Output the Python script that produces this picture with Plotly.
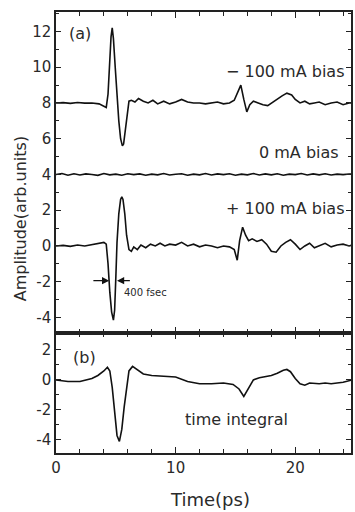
import plotly.graph_objects as go

# ---- data ----
x_neg = [0, 0.6, 1.2, 1.8, 2.4, 3.0, 3.6, 4.0, 4.2, 4.35, 4.5, 4.6, 4.7, 4.8, 4.95,
         5.1, 5.25, 5.4, 5.55, 5.65, 5.8, 5.95, 6.1, 6.3, 6.6, 6.9, 7.3, 7.7, 8.1, 8.5,
         9.0, 9.5, 10.0, 10.5, 11.0, 11.5, 12.0, 12.5, 13.0, 13.5, 14.0, 14.5,
         14.9, 15.2, 15.45, 15.7, 15.95, 16.2, 16.5, 16.9, 17.3, 17.7,
         18.1, 18.5, 18.9, 19.3, 19.7, 20.0, 20.4, 20.8, 21.2, 21.6, 22.0,
         22.5, 23.0, 23.5, 24.0, 24.5, 25.0]
y_neg = [8.0, 8.02, 7.98, 8.03, 7.99, 8.0, 7.95, 7.8, 7.75, 8.5, 10.5, 11.7, 12.2, 11.6, 10.0,
         8.3, 7.0, 6.0, 5.6, 5.7, 6.5, 7.6, 8.1, 8.15, 8.05, 8.25, 8.1, 8.0, 8.15, 7.95,
         8.1, 7.95, 8.05, 8.2, 8.05, 8.0, 8.0, 7.95, 8.0, 8.05, 7.95, 8.0,
         8.15, 8.6, 9.0, 8.2, 7.5, 7.9, 8.1, 8.0, 7.9, 7.85,
         8.05, 8.2, 8.4, 8.55, 8.45, 8.2, 8.0, 8.1, 7.95, 8.0, 8.05,
         7.9, 8.0, 8.05, 7.9, 8.0, 8.0]

x_zero = [0, 0.5, 1.0, 1.5, 2.0, 2.5, 3.0, 3.5, 4.0, 4.5, 5.0, 5.5, 6.0, 6.5, 7.0, 7.5,
          8.0, 8.5, 9.0, 9.5, 10.0, 10.5, 11.0, 11.5, 12.0, 12.5, 13.0, 13.5, 14.0, 14.5,
          15.0, 15.5, 16.0, 16.5, 17.0, 17.5, 18.0, 18.5, 19.0, 19.5, 20.0, 20.5, 21.0,
          21.5, 22.0, 22.5, 23.0, 23.5, 24.0, 24.5, 25.0]
y_zero = [4.0, 4.05, 3.96, 4.04, 3.97, 4.03, 4.0, 3.95, 4.05, 3.98, 4.02, 3.96, 4.04, 3.99,
          4.03, 3.96, 4.02, 3.98, 4.05, 3.97, 4.01, 4.04, 3.96, 4.02, 3.98, 4.05, 3.97, 4.03,
          3.99, 4.04, 3.96, 4.02, 3.98, 4.05, 3.97, 4.03, 3.98, 4.04, 3.96, 4.02, 3.99, 4.05,
          3.97, 4.03, 3.98, 4.04, 3.97, 4.02, 3.99, 4.03, 4.0]

x_pos = [0, 0.6, 1.2, 1.8, 2.4, 3.0, 3.6, 4.0, 4.2, 4.35, 4.5, 4.65, 4.8, 4.9, 5.0, 5.1,
         5.25, 5.4, 5.5, 5.6, 5.75, 5.9, 6.1, 6.3, 6.5, 6.8, 7.1, 7.5, 7.9, 8.3, 8.7, 9.1,
         9.5, 10.0, 10.5, 11.0, 11.5, 12.0, 12.5, 13.0, 13.5, 14.0, 14.5, 14.9, 15.15,
         15.35, 15.6, 15.85, 16.1, 16.4, 16.8, 17.2, 17.6, 18.0, 18.4, 18.8, 19.2, 19.6,
         20.0, 20.4, 20.8, 21.2, 21.6, 22.0, 22.5, 23.0, 23.5, 24.0, 24.5, 25.0]
y_pos = [0.0, 0.03, -0.02, 0.05, 0.0, 0.08, 0.15, 0.2, 0.1, -1.0, -2.6, -3.7, -4.15, -3.6,
         -1.8, 0.2, 1.8, 2.6, 2.75, 2.6, 1.8, 0.6, -0.2, -0.3, -0.05, -0.2, 0.05, -0.1, 0.1,
         0.0, 0.15, 0.0, 0.1, 0.05, 0.2, 0.0, 0.1, -0.05, 0.05, 0.0, -0.1, 0.0, -0.05, -0.2,
         -0.8, 0.3, 1.05, 0.6, 0.3, 0.4, 0.25, 0.35, 0.1, -0.3, -0.35, 0.0, 0.2, 0.35, 0.1,
         -0.2, 0.0, 0.15, -0.1, 0.0, 0.15, -0.05, 0.05, 0.1, 0.0, 0.1]

x_int = [0, 1, 2, 3, 3.5, 4.0, 4.3, 4.5, 4.7, 4.9, 5.1, 5.3, 5.5, 5.7, 5.9, 6.1, 6.4, 6.8,
         7.3, 8, 9, 10, 11, 12, 13, 14, 14.8, 15.3, 15.7, 16.0, 16.5, 17, 17.5, 18, 18.5,
         19, 19.3, 19.6, 20, 20.4, 20.8, 21.2, 22, 22.5, 23, 24, 25]
y_int = [0.0, -0.1, -0.1, 0.1, 0.3, 0.6, 0.85, 0.6, -0.5, -2.2, -3.7, -4.1, -3.3, -1.8,
         -0.4, 0.6, 0.9, 0.7, 0.4, 0.3, 0.25, 0.2, -0.1, -0.25, -0.25, -0.2, -0.3, -0.6,
         -1.1, -0.7, 0.0, 0.15, 0.2, 0.3, 0.45, 0.65, 0.7, 0.55, 0.1, -0.25, -0.35, -0.2,
         -0.25, -0.2, -0.25, -0.15, 0.05]

top_ticks = [-4, -2, 0, 2, 4, 6, 8, 10, 12]
top_ticktext = ["-4", "-2", "0", "2", "4", "6", "8", "10", "12"]
bot_ticks = [-4, -2, 0, 2]
bot_ticktext = ["-4", "-2", "0", "2"]
x_ticks = [0, 10, 20]
x_ticktext = ["0", "10", "20"]

FONT = "DejaVu Sans"
TXT = "#2a2a2a"
LINE = dict(color="#111", width=1.6)

fig = go.Figure()
for xs, ys in [(x_neg, y_neg), (x_zero, y_zero), (x_pos, y_pos)]:
    fig.add_trace(go.Scatter(x=xs, y=ys, mode="lines", line=LINE, xaxis="x", yaxis="y",
                             showlegend=False, hoverinfo="skip"))
fig.add_trace(go.Scatter(x=x_int, y=y_int, mode="lines", line=LINE, xaxis="x2", yaxis="y2",
                         showlegend=False, hoverinfo="skip"))

axis_common = dict(showline=True, linecolor="#222", linewidth=1.5, mirror="ticks",
                   ticks="inside", tickcolor="#222", tickwidth=1.3, showgrid=False,
                   zeroline=False, tickfont=dict(family=FONT, size=15, color=TXT))

dom_split = 120 / 441
fig.update_layout(
    width=355, height=512,
    margin=dict(l=56, r=2, t=12, b=59),
    paper_bgcolor="white", plot_bgcolor="white",
    xaxis=dict(axis_common, range=[0, 24.66], anchor="y", tickvals=x_ticks, ticktext=x_ticktext,
               showticklabels=False, ticklen=6,
               minor=dict(ticks="inside", dtick=2, tick0=0, ticklen=4, tickcolor="#222")),
    yaxis=dict(axis_common, range=[-4.87, 13.09], domain=[dom_split, 1], anchor="x",
               tickvals=top_ticks, ticktext=top_ticktext, ticklen=5,
               minor=dict(ticks="inside", dtick=1, tick0=0, ticklen=3, tickcolor="#222")),
    xaxis2=dict(axis_common, range=[0, 24.66], anchor="y2", matches="x",
                tickvals=x_ticks, ticktext=x_ticktext, ticklen=6,
                minor=dict(ticks="inside", dtick=2, tick0=0, ticklen=4, tickcolor="#222")),
    yaxis2=dict(axis_common, range=[-4.87, 3.13], domain=[0, dom_split], anchor="x2",
                tickvals=bot_ticks, ticktext=bot_ticktext, ticklen=5,
                minor=dict(ticks="inside", dtick=1, tick0=0, ticklen=3, tickcolor="#222")),
)

ann_font = dict(family=FONT, size=16, color=TXT)
annotations = [
    dict(text="\u2212 100 mA bias", x=24.2, y=9.75, xref="x", yref="y", xanchor="right",
         yanchor="middle", showarrow=False, font=ann_font),
    dict(text="0 mA bias", x=23.8, y=5.25, xref="x", yref="y", xanchor="right",
         yanchor="middle", showarrow=False, font=ann_font),
    dict(text="+ 100 mA bias", x=24.2, y=2.08, xref="x", yref="y", xanchor="right",
         yanchor="middle", showarrow=False, font=ann_font),
    dict(text="(a)", x=0.9, y=11.9, xref="x", yref="y", xanchor="left",
         yanchor="middle", showarrow=False, font=ann_font),
    dict(text="(b)", x=1.25, y=1.5, xref="x2", yref="y2", xanchor="left",
         yanchor="middle", showarrow=False, font=ann_font),
    dict(text="time integral", x=15.1, y=-2.67, xref="x2", yref="y2", xanchor="center",
         yanchor="middle", showarrow=False, font=ann_font),
    dict(text="400 fsec", x=5.55, y=-2.6, xref="x", yref="y", xanchor="left",
         yanchor="middle", showarrow=False, font=dict(family=FONT, size=10, color=TXT)),
    # width arrows
    dict(x=4.45, y=-1.94, ax=3.0, ay=-1.94, xref="x", yref="y", axref="x", ayref="y",
         text="", showarrow=True, arrowhead=2, arrowsize=1.2, arrowwidth=1.2, arrowcolor="#111"),
    dict(x=5.1, y=-1.94, ax=6.3, ay=-1.94, xref="x", yref="y", axref="x", ayref="y",
         text="", showarrow=True, arrowhead=2, arrowsize=1.2, arrowwidth=1.2, arrowcolor="#111"),
    # axis titles
    dict(text="Amplitude(arb.units)", x=-0.122, y=0.53, xref="paper", yref="paper",
         textangle=-90, showarrow=False, xanchor="center", yanchor="middle",
         font=dict(family=FONT, size=16, color=TXT)),
    dict(text="Time(ps)", x=0.522, y=-0.105, xref="paper", yref="paper", showarrow=False,
         xanchor="center", yanchor="middle", font=dict(family=FONT, size=18, color=TXT)),
]
fig.update_layout(annotations=annotations)

fig.write_html("out.html")
